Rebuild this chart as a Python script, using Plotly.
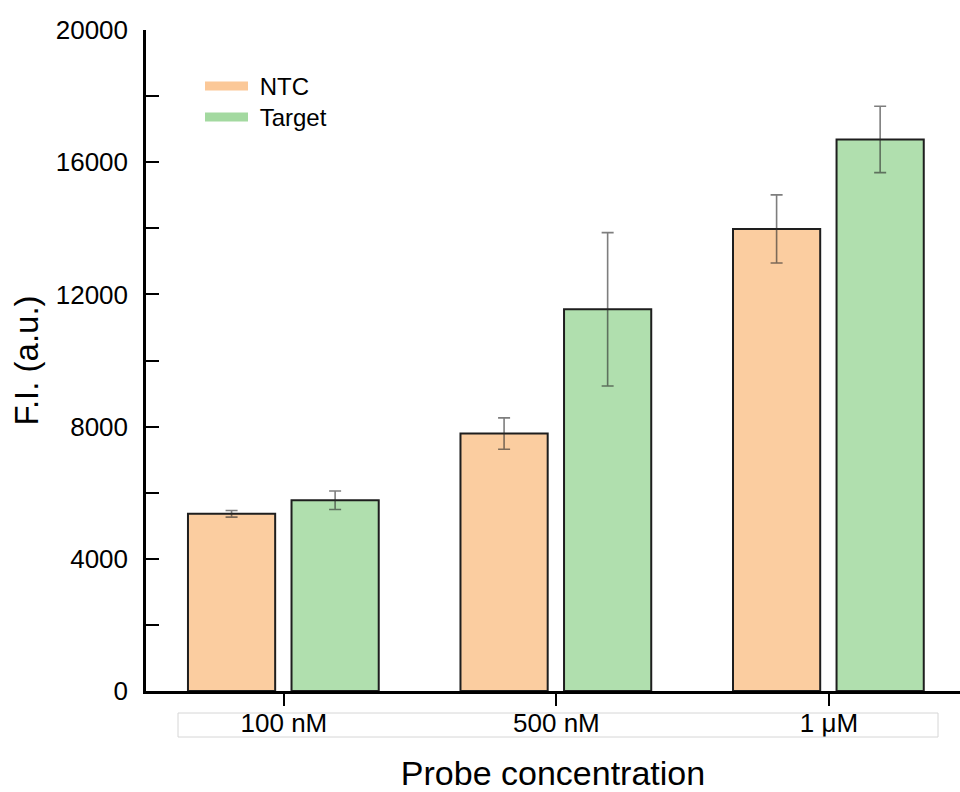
import plotly.graph_objects as go

categories = ["100 nM", "500 nM", "1 μM"]
ntc_values = [5360, 7790, 13980]
ntc_errors = [100, 475, 1030]
target_values = [5770, 11550, 16690]
target_errors = [280, 2320, 1005]
series_names = ["NTC", "Target"]

ntc_color = "rgb(251,205,160)"
target_color = "rgb(176,223,174)"
err_color = "rgba(40,40,40,0.6)"
FONT = "Liberation Sans, Arial, sans-serif"

xpos = list(range(len(categories)))

fig = go.Figure()
fig.add_trace(go.Bar(
    x=xpos, y=ntc_values, name=series_names[0], showlegend=False,
    offset=-0.352, width=0.32,
    marker=dict(color=ntc_color, line=dict(color="#1e1e1e", width=2)),
    error_y=dict(type="data", array=ntc_errors, visible=True,
                 color=err_color, thickness=1.6, width=6),
))
fig.add_trace(go.Bar(
    x=xpos, y=target_values, name=series_names[1], showlegend=False,
    offset=0.028, width=0.32,
    marker=dict(color=target_color, line=dict(color="#1e1e1e", width=2)),
    error_y=dict(type="data", array=target_errors, visible=True,
                 color=err_color, thickness=1.6, width=6),
))
# legend entries (line-style swatches), one legend each for exact placement
fig.add_trace(go.Scatter(x=[None], y=[None], mode="lines",
                         name="\u00a0" + series_names[0], legend="legend",
                         line=dict(color="rgb(251,200,152)", width=9)))
fig.add_trace(go.Scatter(x=[None], y=[None], mode="lines",
                         name="\u00a0" + series_names[1], legend="legend2",
                         line=dict(color="rgb(163,217,160)", width=9)))

# light box behind category labels
fig.add_shape(type="rect", xref="paper", yref="paper",
              x0=(178 - 146) / 814, x1=(938 - 146) / 814,
              y0=(691 - 737) / 661, y1=(691 - 713) / 661,
              line=dict(color="#d6d6d6", width=1), fillcolor="rgba(0,0,0,0)")

leg_common = dict(xanchor="left", yanchor="top",
                  font=dict(size=24, family=FONT), bgcolor="rgba(0,0,0,0)",
                  itemwidth=43)

fig.update_layout(
    width=960, height=792,
    margin=dict(l=146, r=0, t=30, b=101),
    paper_bgcolor="white", plot_bgcolor="white",
    font=dict(family=FONT, color="black"),
    barmode="overlay",
    legend=dict(x=(200 - 146) / 814, y=(691 - 64) / 661, **leg_common),
    legend2=dict(x=(200 - 146) / 814, y=(691 - 95) / 661, **leg_common),
    xaxis=dict(
        range=[-0.506, 2.481],
        tickmode="array", tickvals=xpos, ticktext=categories,
        ticks="outside", ticklen=12, tickwidth=2, tickcolor="black",
        showline=True, linecolor="black", linewidth=2.5,
        showgrid=False, zeroline=False,
        tickfont=dict(size=26, family=FONT),
        ticklabelstandoff=-5,
        title=dict(text="Probe concentration", font=dict(size=34, family=FONT), standoff=25),
    ),
    yaxis=dict(
        range=[0, 20000],
        tickmode="linear", tick0=0, dtick=4000, tickformat="d",
        ticks="inside", ticklen=13, tickwidth=1.5, tickcolor="black",
        minor=dict(dtick=2000, ticks="inside", ticklen=13, tickwidth=1.5, tickcolor="black"),
        showline=True, linecolor="black", linewidth=2.5,
        showgrid=False, zeroline=False,
        tickfont=dict(size=26, family=FONT),
        ticklabelstandoff=10,
        title=dict(text="F.I. (a.u.)", font=dict(size=33, family=FONT), standoff=8),
    ),
)

fig.write_html("out.html")
